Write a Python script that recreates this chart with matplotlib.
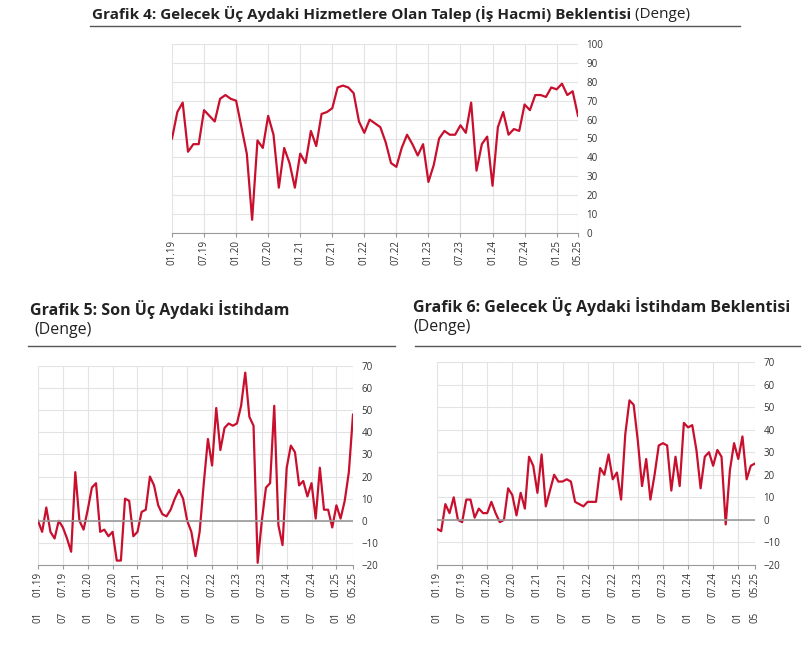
import numpy as np
import matplotlib.pyplot as plt

plt.rcParams["font.family"] = "Open Sans"

W, H = 812, 653
RED = "#c8102e"

# monthly series 01.19 - 05.25
talep = [50, 64, 69, 43, 47, 47, 65, 62, 59, 71, 73, 71,
         70, 56, 42, 7, 49, 45, 62, 52, 24, 45, 37, 24,
         42, 37, 54, 46, 63, 64, 66, 77, 78, 77, 74, 59,
         53, 60, 58, 56, 48, 37, 35, 45, 52, 47, 41, 47,
         27, 36, 50, 54, 52, 52, 57, 53, 69, 33, 47, 51,
         25, 56, 64, 52, 55, 54, 68, 65, 73, 73, 72, 77,
         76, 79, 73, 75, 62]
istihdam_son = [0, -5, 6, -5, -8, 0, -3, -8, -14, 22, 0, -4,
                5, 15, 17, -5, -4, -7, -5, -18, -18, 10, 9, -7,
                -5, 4, 5, 20, 16, 7, 3, 2, 5, 10, 14, 10,
                0, -5, -16, -5, 17, 37, 25, 51, 32, 42, 44, 43,
                44, 52, 67, 47, 43, -19, 0, 15, 17, 52, -2, -11,
                24, 34, 31, 16, 18, 11, 17, 1, 24, 5, 5, -3,
                7, 1, 9, 22, 48]
istihdam_bek = [-4, -5, 7, 3, 10, 0, -1, 9, 9, 1, 5, 3,
                3, 8, 3, -1, 0, 14, 11, 2, 12, 5, 28, 24,
                12, 29, 6, 13, 20, 17, 17, 18, 17, 8, 7, 6,
                8, 8, 8, 23, 20, 29, 18, 21, 9, 38, 53, 51,
                35, 15, 27, 9, 20, 33, 34, 33, 13, 28, 15, 43,
                41, 42, 31, 14, 28, 30, 24, 31, 28, -2, 22, 34,
                27, 37, 18, 24, 25]

tick_pos = list(range(0, 76, 6)) + [76]
tick_lbl = ["01.19", "07.19", "01.20", "07.20", "01.21", "07.21", "01.22",
            "07.22", "01.23", "07.23", "01.24", "07.24", "01.25", "05.25"]
ghost_lbl = ["01", "07", "01", "07", "01", "07", "01", "07", "01", "07",
             "01", "07", "01", "05"]

fig = plt.figure(figsize=(W / 100, H / 100), dpi=100)


def px_axes(l, t, r, b):
    return fig.add_axes([l / W, 1 - b / H, (r - l) / W, (b - t) / H])


def draw(ax, data, ymin, ymax, step, zero_line):
    x = np.arange(len(data))
    ax.plot(x, data, color=RED, lw=1.6)
    ax.set_xlim(0, 76)
    ax.set_ylim(ymin, ymax)
    ax.set_yticks(np.arange(ymin, ymax + 1, step))
    ax.yaxis.tick_right()
    ax.set_xticks(tick_pos)
    ax.set_xticklabels(tick_lbl, rotation=90, fontsize=7, color="#333333")
    ax.tick_params(axis="y", labelsize=7, colors="#333333", length=0, pad=6)
    ax.tick_params(axis="x", length=3, color="#999999", pad=2)
    ax.grid(True, color="#e3e3e3", lw=0.8)
    for s in ax.spines.values():
        s.set_visible(False)
    ax.spines["bottom"].set_visible(True)
    ax.spines["bottom"].set_color("#999999")
    if zero_line:
        ax.axhline(0, color="#999999", lw=1.2)


ax1 = px_axes(172, 44, 578, 233)
draw(ax1, talep, 0, 100, 10, False)

ax2 = px_axes(38, 366, 353, 565)
draw(ax2, istihdam_son, -20, 70, 10, True)

ax3 = px_axes(437, 362, 755, 565)
draw(ax3, istihdam_bek, -20, 70, 10, True)

# ghost label rows under the bottom charts
for ax in (ax2, ax3):
    for p, s in zip(tick_pos, ghost_lbl):
        ax.annotate(s, xy=(p, 0), xycoords=("data", "axes fraction"),
                    xytext=(0, -34), textcoords="offset points",
                    rotation=90, ha="center", va="top", fontsize=7,
                    color="#333333")

# titles
t1 = fig.text(92 / W, 1 - 14 / H,
              "Grafik 4: Gelecek Üç Aydaki Hizmetlere Olan Talep (İş Hacmi) Beklentisi",
              fontsize=11, fontweight="bold", va="center", color="#222222")
fig.add_artist(plt.Annotation(" (Denge)", xy=(1, 0.5), xycoords=t1, va="center",
                              fontsize=11, color="#222222"))
fig.add_artist(plt.Line2D([90 / W, 740 / W], [1 - 26 / H, 1 - 26 / H],
                          color="#555555", lw=1))

fig.text(30 / W, 1 - 310 / H, "Grafik 5: Son Üç Aydaki İstihdam",
         fontsize=11.5, fontweight="bold", va="center", color="#222222")
fig.text(34 / W, 1 - 330 / H, "(Denge)", fontsize=11.5, va="center",
         color="#222222")
fig.add_artist(plt.Line2D([28 / W, 395 / W], [1 - 346 / H, 1 - 346 / H],
                          color="#555555", lw=1))

fig.text(413 / W, 1 - 307 / H, "Grafik 6: Gelecek Üç Aydaki İstihdam Beklentisi",
         fontsize=11.5, fontweight="bold", va="center", color="#222222")
fig.text(413 / W, 1 - 327 / H, "(Denge)", fontsize=11.5, va="center",
         color="#222222")
fig.add_artist(plt.Line2D([415 / W, 800 / W], [1 - 346 / H, 1 - 346 / H],
                          color="#555555", lw=1))

fig.savefig("out.png", dpi=100, facecolor="white")
